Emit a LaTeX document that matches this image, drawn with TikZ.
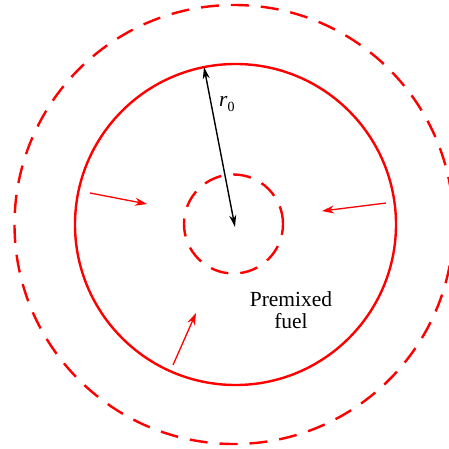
\documentclass[tikz,border=0pt]{standalone}
\usepackage{fontspec}
\setmainfont{Liberation Serif}
\usetikzlibrary{arrows.meta}
\begin{document}
\begin{tikzpicture}[x=1pt,y=-1pt,
  flame/.style={draw=red, line width=2.4pt, circle, inner sep=0pt},
  dashflame/.style={flame, dash pattern=on 18pt off 12pt},
  flow/.style={red, line width=1.3pt, -{Stealth[length=12pt,width=8pt]}},
  radius/.style={black, line width=1.4pt, {Stealth[length=12pt,width=7pt]}-{Stealth[length=12pt,width=7pt]}},
  lbl/.style={font=\fontsize{21.5}{22}\selectfont, align=center, inner sep=0pt}]
\useasboundingbox (0,0) rectangle (449,449);
\clip (0,0) rectangle (449,449);
\node[dashflame, minimum size=439pt] (outer) at (234,224.5) {};
\node[flame, minimum size=321pt] (front) at (235.5,224.5) {};
\node[dashflame, minimum size=99pt] (inner) at (233.5,224) {};
\coordinate (ctr) at (235,227);
\coordinate (rtop) at (204,67);
\draw[radius] (rtop) -- (ctr);
\node[lbl, anchor=west] (r0) at (219,104) {\textit{r}\raisebox{-0.25em}{\fontsize{14}{14}\selectfont 0}};
\coordinate (a1s) at (90,193);  \coordinate (a1e) at (147,204);
\coordinate (a2s) at (386,203); \coordinate (a2e) at (322,211);
\coordinate (a3s) at (173,365); \coordinate (a3e) at (196,313);
\draw[flow] (a1s) -- (a1e);
\draw[flow] (a2s) -- (a2e);
\draw[flow] (a3s) -- (a3e);
\node[lbl] (fuel) at (291,310) {Premixed\\fuel};
\end{tikzpicture}
\end{document}
